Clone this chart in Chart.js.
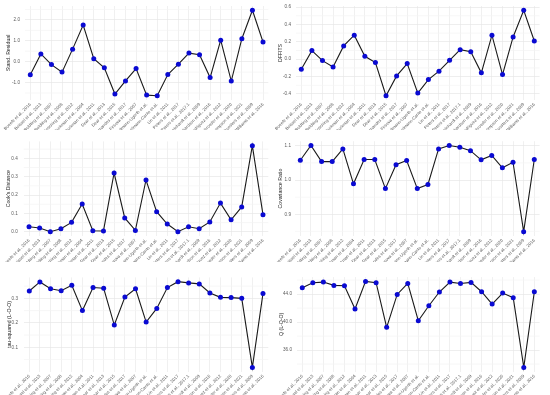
<!DOCTYPE html>
<html><head><meta charset="utf-8">
<script src="https://cdn.jsdelivr.net/npm/chart.js@4.4.0/dist/chart.umd.min.js"></script>
<style>
html,body{margin:0;padding:0;background:#fff;width:550px;height:395px;overflow:hidden}
canvas{position:absolute;display:block}
</style></head><body>
<canvas id="c1" width="275" height="130" style="left:0;top:0"></canvas>
<canvas id="c2" width="275" height="130" style="left:275px;top:0"></canvas>
<canvas id="c3" width="275" height="132" style="left:0;top:130px"></canvas>
<canvas id="c4" width="275" height="132" style="left:275px;top:130px"></canvas>
<canvas id="c5" width="275" height="133" style="left:0;top:262px"></canvas>
<canvas id="c6" width="275" height="133" style="left:275px;top:262px"></canvas>
<script>
const studies = ["Boeefe et al., 2016","Boissel et al., 2013","Boldting et al., 2007","Boldting et al., 2008","Bosching et al., 2012","Burkman et al., 2004","Burkman et al., 2011","Dear et al., 2013","Dear et al., 2015","Fernandes et al., 2017","Firsova et al., 2007","Hallmann-Ugerth et al.","Hemmelmann-Canto et al.","Lin et al., 2011","Peters et al., 2017","Peters et al., 2017.1","Reinhardt et al., 2009","Richardson et al., 2016","Rodriguez et al., 2012","Schroeder et al., 2020","Thompson et al., 2021","Troosters et al., 2009","Williams et al., 2016"];

const standResidual = [-0.63,0.37,-0.14,-0.50,0.60,1.75,0.14,-0.29,-1.55,-0.92,-0.33,-1.60,-1.63,-0.62,-0.12,0.41,0.33,-0.76,1.03,-0.93,1.10,2.46,0.94];
const dffits = [-0.115,0.099,-0.016,-0.089,0.153,0.276,0.034,-0.039,-0.420,-0.192,-0.050,-0.390,-0.234,-0.138,-0.012,0.110,0.087,-0.157,0.276,-0.177,0.256,0.563,0.210];
const cooksDistance = [0.027,0.020,0.000,0.016,0.051,0.151,0.005,0.004,0.320,0.075,0.007,0.282,0.109,0.042,0.000,0.027,0.016,0.053,0.156,0.065,0.135,0.469,0.093];
const covarianceRatio = [1.058,1.101,1.054,1.054,1.091,0.989,1.060,1.060,0.975,1.045,1.057,0.975,0.987,1.091,1.101,1.096,1.086,1.059,1.072,1.036,1.052,0.849,1.060];
const tauSquaredLOO = [0.330,0.367,0.339,0.331,0.353,0.250,0.344,0.341,0.191,0.305,0.339,0.203,0.259,0.344,0.368,0.363,0.359,0.322,0.304,0.303,0.300,0.018,0.320];
const qLOO = [44.90,45.62,45.71,45.24,45.19,41.86,45.81,45.62,39.24,43.95,45.52,40.19,42.33,44.29,45.71,45.52,45.67,44.33,42.57,44.14,43.48,33.52,44.33];

const ticksStandResidual = [-1,0,1,2];
const ticksDffits = [-0.4,-0.2,0,0.2,0.4,0.6];
const ticksCooks = [0,0.1,0.2,0.3,0.4];
const ticksCovRatio = [0.9,1.0,1.1];
const ticksTau = [0.1,0.2,0.3];
const ticksQ = [36,40,44];

const FONT = "'Liberation Sans', Arial, sans-serif";

function makePanel(id, values, title, majors, geo){
  const step = majors[1]-majors[0];
  const lo = Math.min(...values), hi = Math.max(...values);
  const pad = (hi-lo)*0.05;
  const ymin = lo-pad, ymax = hi+pad;
  const minors = [];
  for (let k = -6; k <= (majors.length-1)*2+6; k++){
    if (k % 2 === 0) continue;
    const r = Math.round((majors[0]+k*step/2)*1e6)/1e6;
    if (r >= ymin && r <= ymax) minors.push(r);
  }
  const canvas = document.getElementById(id);
  const H = canvas.height;
  const minorGrid = {
    id:'minorGrid',
    beforeDatasetsDraw(chart){
      const {ctx, chartArea:a, scales:{y}} = chart;
      ctx.save();
      ctx.strokeStyle = '#f3f3f3';
      ctx.lineWidth = 0.7;
      minors.forEach(v => {
        const py = y.getPixelForValue(v);
        ctx.beginPath(); ctx.moveTo(a.left, py); ctx.lineTo(a.right, py); ctx.stroke();
      });
      ctx.restore();
    }
  };
  new Chart(canvas, {
    type:'line',
    data:{labels:studies, datasets:[{data:values, borderColor:'#1a1a1a', borderWidth:1.1, tension:0,
      pointRadius:2.5, pointBackgroundColor:'#0a0ad2', pointBorderColor:'#0a0ad2', pointBorderWidth:0, fill:false}]},
    plugins:[minorGrid],
    options:{
      responsive:false, animation:false, devicePixelRatio:1,
      layout:{padding:{top:geo.top, right:geo.right, left:0, bottom:0}},
      plugins:{legend:{display:false}, tooltip:{enabled:false}},
      scales:{
        x:{offset:true, border:{display:false},
          grid:{offset:false, color:'#e9e9e9', lineWidth:0.7, drawTicks:false},
          ticks:{autoSkip:false, maxRotation:45, minRotation:45, padding:2, color:'#555', font:{size:4.3, family:FONT}},
          afterFit(s){ s.height = H - geo.bottom; s.paddingLeft = 0; s.paddingRight = 0; }
        },
        y:{min:ymin, max:ymax, border:{display:false},
          grid:{drawTicks:false, color:'#e6e6e6', lineWidth:0.7},
          afterBuildTicks(s){ s.ticks = majors.filter(v => v >= ymin && v <= ymax).map(v => ({value:v})); },
          ticks:{autoSkip:false, padding:geo.tickPad, color:'#5a5a5a', font:{size:4.6, family:FONT},
            callback:v => Number(v).toFixed(1)},
          title:{display:true, text:title, color:'#222', font:{size:5.2, family:FONT}, padding:{top:geo.titleX-3, bottom:0}},
          afterFit(s){ s.width = geo.left; s.paddingTop = 0; s.paddingBottom = 0; }
        }
      }
    }
  });
}

makePanel('c1', standResidual, 'Stand. Residual', ticksStandResidual, {left:25, right:6.7, top:6, bottom:100, tickPad:5, titleX:8});
makePanel('c2', dffits, 'DFFITS', ticksDffits, {left:21, right:10.4, top:6, bottom:100, tickPad:5, titleX:5.5});
makePanel('c3', cooksDistance, "Cook's Distance", ticksCooks, {left:23.7, right:6.7, top:11.4, bottom:106, tickPad:6, titleX:8});
makePanel('c4', covarianceRatio, 'Covariance Ratio', ticksCovRatio, {left:20, right:10.4, top:11.2, bottom:106, tickPad:4, titleX:5});
makePanel('c5', tauSquaredLOO, 'tau-squared (L-O-O)', ticksTau, {left:24, right:6.7, top:15.4, bottom:109.7, tickPad:6, titleX:9});
makePanel('c6', qLOO, 'Q (L-O-O)', ticksQ, {left:22, right:10.4, top:15.1, bottom:109.7, tickPad:5, titleX:6.7});
</script>
</body></html>
